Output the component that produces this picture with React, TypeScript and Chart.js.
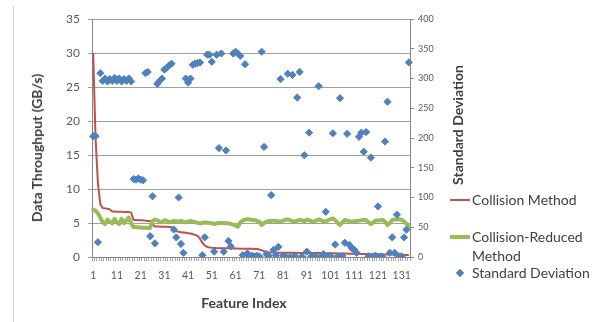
import React, { useEffect, useRef } from 'react';
import { Chart, registerables } from 'chart.js';

Chart.register(...registerables);

// Feature indices 1..134 along the category axis
const featureIndex: string[] = Array.from({ length: 134 }, (_, i) => String(i + 1));
const shownIndexLabels = ['1', '11', '21', '31', '41', '51', '61', '71', '81', '91', '101', '111', '121', '131'];

// Throughput (GB/s), left axis
const collisionMethod = [
  30, 17.5, 10.8, 7.8, 7.2, 7.15, 7.1, 7.0, 6.7, 6.7,
  6.65, 6.65, 6.65, 6.6, 6.6, 6.6, 6.55, 5.45, 5.45, 5.4,
  5.4, 5.4, 5.35, 5.3, 5.3, 4.8, 4.5, 4.5, 4.5, 4.45,
  4.45, 4.45, 4.4, 4.4, 4.1, 3.8, 3.7, 3.65, 3.6, 3.55,
  3.5, 3.45, 3.35, 3.25, 3.1, 2.7, 2.1, 1.7, 1.5, 1.4,
  1.35, 1.33, 1.31, 1.3, 1.3, 1.28, 1.28, 1.27, 1.26, 1.25,
  1.25, 1.24, 1.23, 1.22, 1.22, 1.21, 1.2, 1.2, 1.19, 1.18,
  1.1, 1.0, 0.85, 0.75, 0.7, 0.67, 0.65, 0.64, 0.63, 0.63,
  0.63, 0.62, 0.62, 0.62, 0.61, 0.61, 0.61, 0.6, 0.6, 0.6,
  0.6, 0.59, 0.59, 0.58, 0.58, 0.57, 0.57, 0.56, 0.56, 0.55,
  0.55, 0.54, 0.54, 0.53, 0.52, 0.51, 0.5, 0.5, 0.49, 0.48,
  0.47, 0.46, 0.46, 0.45, 0.44, 0.43, 0.43, 0.42, 0.41, 0.4,
  0.4, 0.39, 0.38, 0.37, 0.37, 0.36, 0.35, 0.34, 0.34, 0.33,
  0.32, 0.31, 0.3, 0.3,
];

const collisionReducedMethod = [
  7.0, 6.8, 6.4, 5.8, 5.1, 4.85, 5.5, 5.2, 4.95, 5.6,
  5.1, 4.85, 5.6, 4.95, 5.4, 5.8, 4.95, 4.4, 4.4, 4.35,
  4.35, 4.3, 4.3, 4.25, 4.3, 5.3, 5.5, 5.4, 5.2, 5.1,
  5.4, 5.35, 5.1, 5.2, 5.3, 5.25, 5.2, 5.3, 5.2, 5.1,
  5.2, 5.3, 5.2, 5.15, 5.0, 4.95, 5.0, 5.1, 5.05, 5.0,
  4.95, 4.85, 4.95, 5.0, 5.05, 5.0, 4.95, 4.95, 4.85, 4.75,
  4.6, 4.45, 5.1, 5.35, 5.5, 5.55, 5.5, 5.45, 5.45, 5.3,
  5.2, 4.7, 5.0, 5.2, 5.3, 5.3, 5.35, 5.3, 5.25, 5.2,
  5.35, 5.45, 5.55, 5.4, 5.25, 5.2, 5.35, 5.45, 5.4, 5.25,
  5.5, 5.4, 5.25, 5.2, 5.35, 5.55, 5.4, 5.25, 5.2, 5.4,
  5.55, 5.7, 5.4, 5.0, 4.7, 5.1, 5.45, 5.35, 5.25, 5.2,
  5.25, 5.3, 5.35, 5.4, 5.45, 5.45, 5.1, 4.85, 5.1, 5.35,
  5.35, 5.4, 5.45, 5.2, 4.7, 5.0, 5.45, 5.5, 5.5, 5.55,
  5.45, 5.2, 4.9, 4.46,
];

// Standard deviation, right axis
const standardDeviation = [
  203, 203, 25, 309, 296, 300, 295, 299, 296, 301,
  296, 300, 295, 299, 296, 300, 295, 131, 130, 132,
  130, 129, 309, 311, 35, 102, 23, 291, 296, 300,
  315, 318, 322, 325, 46, 33, 100, 22, 7, 300,
  293, 300, 323, 325, 326, 327, 3, 33, 340, 340,
  328, 9, 340, 183, 342, 9, 179, 27, 18, 342,
  345, 342, 338, 3, 324, 6, 1, 2, 1, 2,
  1, 345, 185, 5, 2, 104, 12, 3, 17, 299,
  2, 1, 308, 0, 306, 2, 268, 311, 1, 171,
  9, 209, 1, 2, 0, 287, 1, 5, 76, 1,
  2, 208, 21, 1, 267, 2, 24, 207, 20, 15,
  12, 7, 202, 209, 177, 210, 1, 167, 1, 2,
  85, 1, 0, 194, 261, 7, 33, 7, 71, 1,
  1, 33, 46, 327,
];

const throughputTicks = [0, 5, 10, 15, 20, 25, 30, 35];
const deviationTicks = [0, 50, 100, 150, 200, 250, 300, 350, 400];

const RED = '#C0504D';
const GREEN = '#9BBB59';
const BLUE = '#4F81BD';
const TICK_TEXT = '#595959';
const TITLE_TEXT = '#404040';
const FONT = 'Lato, "Open Sans", sans-serif';

export default function App() {
  const canvasRef = useRef<HTMLCanvasElement>(null);

  useEffect(() => {
    const canvas = canvasRef.current;
    if (!canvas) return;
    const chart = new Chart(canvas, {
      type: 'line',
      data: {
        labels: featureIndex,
        datasets: [
          {
            label: 'Standard Deviation',
            data: standardDeviation,
            yAxisID: 'y1',
            showLine: false,
            pointStyle: 'rectRot',
            pointRadius: 3.6,
            pointBorderWidth: 1,
            pointBackgroundColor: BLUE,
            pointBorderColor: BLUE,
            borderColor: BLUE,
            backgroundColor: BLUE,
            order: 0,
          },
          {
            label: 'Collision-Reduced Method',
            data: collisionReducedMethod,
            yAxisID: 'y',
            borderColor: GREEN,
            backgroundColor: GREEN,
            borderWidth: 4,
            borderJoinStyle: 'round',
            borderCapStyle: 'round',
            pointRadius: 0,
            tension: 0,
            order: 1,
          },
          {
            label: 'Collision Method',
            data: collisionMethod,
            yAxisID: 'y',
            borderColor: RED,
            backgroundColor: RED,
            borderWidth: 2,
            borderJoinStyle: 'round',
            pointRadius: 0,
            tension: 0,
            order: 2,
          },
        ],
      },
      options: {
        responsive: false,
        animation: false,
        events: [],
        layout: { padding: { top: 19, left: 0, right: 0, bottom: 0 } },
        plugins: { legend: { display: false }, tooltip: { enabled: false } },
        scales: {
          x: {
            type: 'category',
            offset: true,
            grid: { offset: true, drawOnChartArea: false, drawTicks: true, tickLength: 4, color: '#a6a6a6' },
            border: { color: '#868686', width: 1 },
            ticks: {
              autoSkip: false,
              maxRotation: 0,
              minRotation: 0,
              padding: 8,
              color: TICK_TEXT,
              font: { family: FONT, size: 10.5 },
              callback: (_v: any, i: number) =>
                shownIndexLabels.includes(featureIndex[i]) ? featureIndex[i] : '',
            },
            afterFit: (s: any) => { s.height = 65; },
          },
          y: {
            position: 'left',
            min: 0,
            max: 35,
            afterBuildTicks: (s: any) => { s.ticks = throughputTicks.map((v) => ({ value: v })); },
            grid: { color: '#a0a0a0', tickLength: 4 },
            border: { color: '#868686', width: 1 },
            ticks: { padding: 8, color: TICK_TEXT, font: { family: FONT, size: 12 } },
            afterFit: (s: any) => { s.width = 92; },
          },
          y1: {
            position: 'right',
            min: 0,
            max: 400,
            afterBuildTicks: (s: any) => { s.ticks = deviationTicks.map((v) => ({ value: v })); },
            grid: { drawOnChartArea: false, tickLength: 4, color: '#868686' },
            border: { color: '#868686', width: 1 },
            ticks: { padding: 4, color: TICK_TEXT, font: { family: FONT, size: 9 } },
            afterFit: (s: any) => { s.width = 201; },
          },
        },
      },
    } as any);
    return () => chart.destroy();
  }, []);

  const titleStyle: React.CSSProperties = {
    position: 'absolute',
    fontFamily: FONT,
    fontWeight: 700,
    fontSize: 14,
    color: TITLE_TEXT,
    whiteSpace: 'nowrap',
    lineHeight: 1,
  };
  const legendText: React.CSSProperties = {
    position: 'absolute',
    left: 472,
    fontFamily: FONT,
    fontSize: 14,
    color: TITLE_TEXT,
    whiteSpace: 'nowrap',
    lineHeight: 1,
    transform: 'translateY(-50%)',
  };

  return (
    <div style={{ position: 'fixed', left: 0, top: 0, width: 611, height: 322, overflow: 'hidden', background: '#fff' }}>
      <div style={{ position: 'absolute', left: 13, top: 6, width: 1, height: 330, background: '#d9d9d9' }} />
      <canvas ref={canvasRef} width={611} height={322} style={{ position: 'absolute', left: 0, top: 0 }} />

      <div style={{ ...titleStyle, left: 37, top: 148, transform: 'translate(-50%, -50%) rotate(-90deg)' }}>
        Data Throughput (GB/s)
      </div>
      <div style={{ ...titleStyle, left: 458, top: 125, transform: 'translate(-50%, -50%) rotate(-90deg)' }}>
        Standard Deviation
      </div>
      <div style={{ ...titleStyle, left: 244, top: 303, transform: 'translate(-50%, -50%)' }}>
        Feature Index
      </div>

      <div style={{ position: 'absolute', left: 450, top: 199, width: 20, height: 2, background: RED }} />
      <div style={{ ...legendText, top: 200 }}>Collision Method</div>

      <div style={{ position: 'absolute', left: 450, top: 235, width: 20, height: 4, background: GREEN }} />
      <div style={{ ...legendText, top: 237 }}>Collision-Reduced</div>
      <div style={{ ...legendText, top: 256 }}>Method</div>

      <div style={{ position: 'absolute', left: 457, top: 270, width: 6, height: 6, background: BLUE, transform: 'rotate(45deg)' }} />
      <div style={{ ...legendText, top: 273 }}>Standard Deviation</div>
    </div>
  );
}
